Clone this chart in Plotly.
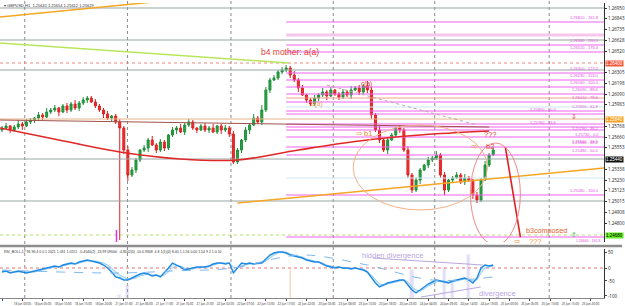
import plotly.graph_objects as go

# ---------------- data ----------------
closes = [
    1.2575, 1.2577, 1.2573, 1.2576, 1.2579, 1.2577, 1.2581, 1.2583, 1.2585, 1.2588,
    1.2586, 1.2591, 1.2593, 1.2595, 1.2591, 1.2597, 1.2593, 1.2599, 1.2595, 1.2600,
    1.2603, 1.2605, 1.2601, 1.2597, 1.2593, 1.2589, 1.2585, 1.2587, 1.2581, 1.2575,
    1.2553, 1.2528, 1.2533, 1.2543, 1.2553, 1.2555, 1.2563, 1.2558, 1.2553, 1.2561,
    1.2555, 1.2568, 1.2573, 1.2575, 1.2571, 1.2578, 1.2581, 1.2575, 1.2573, 1.2577,
    1.2573, 1.2575, 1.2571, 1.2577, 1.2573, 1.2575, 1.2569, 1.2541, 1.2553, 1.2563,
    1.2573, 1.2578, 1.2585, 1.2581, 1.2593, 1.2613, 1.2623, 1.2625, 1.2631, 1.2633,
    1.2635, 1.2628, 1.2623, 1.2615, 1.2608, 1.2603, 1.2599, 1.2605, 1.2608, 1.2611,
    1.2607, 1.2613, 1.2609, 1.2606, 1.2611, 1.2608, 1.2613, 1.2615, 1.2611, 1.2617,
    1.2613, 1.2588, 1.2573, 1.2563, 1.2553, 1.2563, 1.2568, 1.2575, 1.2573, 1.2553,
    1.2528, 1.2513, 1.2523, 1.2533, 1.2538, 1.2543, 1.2545, 1.2548, 1.2528, 1.2513,
    1.2523, 1.2525, 1.2528, 1.2521, 1.2525, 1.2523, 1.2508, 1.2503, 1.2523, 1.2538,
    1.2548, 1.2553]
first_open = 1.2573
# wick lengths in pips
up_wick = [2, 3, 1, 2, 4, 2, 3, 2, 1, 3,
           2, 4, 2, 3, 1, 2, 3, 2, 4, 2,
           3, 2, 2, 3, 2, 2, 3, 1, 2, 3,
           2, 4, 3, 2, 1, 3, 2, 4, 2, 3,
           2, 1, 3, 2, 4, 2, 3, 2, 1, 2,
           3, 2, 4, 1, 2, 3, 2, 3, 2, 1,
           3, 2, 4, 2, 5, 3, 2, 3, 2, 3,
           3, 2, 4, 2, 3, 1, 2, 3, 2, 4,
           2, 3, 1, 2, 3, 2, 4, 2, 3, 2,
           5, 3, 2, 4, 2, 3, 2, 1, 3, 2,
           4, 2, 3, 2, 1, 3, 2, 4, 2, 3,
           1, 2, 3, 2, 4, 2, 1, 3, 2, 4,
           2, 3]
lo_wick = [2, 1, 3, 2, 2, 4, 1, 2, 3, 2,
           3, 1, 2, 2, 4, 1, 3, 2, 2, 3,
           2, 3, 1, 2, 2, 4, 2, 3, 2, 112,
           4, 6, 2, 3, 2, 2, 4, 1, 3, 2,
           3, 2, 2, 4, 1, 3, 2, 2, 3, 1,
           2, 3, 1, 2, 4, 2, 3, 2, 2, 3,
           2, 4, 1, 2, 3, 2, 3, 1, 2, 2,
           2, 3, 2, 4, 1, 3, 2, 2, 3, 2,
           4, 1, 2, 3, 2, 2, 4, 1, 3, 2,
           3, 4, 2, 3, 2, 4, 1, 2, 3, 2,
           3, 3, 2, 4, 1, 3, 2, 2, 3, 5,
           2, 3, 1, 2, 3, 2, 4, 3, 2, 1,
           2, 1]

osc_main = [-4, -3, -5, -4, -3, -4, -5, -4, -3, -2,
            -1, 0, 1, 2, 1, 3, 4, 5, 4, 6,
            7, 8, 7, 6, 5, 3, 0, -4, -9, -10,
            -12, -12, -10, -8, -6, -5, -6, -8, -7, -9,
            -5, 0, 5, 3, 1, -2, -1, 0, 1, 1,
            1, 2, 4, 5, 5, 4, 5, -5, 0, 5,
            4, 5, 4, 5, 5, 9, 13, 15, 16, 16,
            15, 13, 12, 11, 10, 8, 7, 6, 6, 4,
            2, 1, 0, 1, 0, 0, -1, 0, -1, -2,
            -4, -10, -15, -19, -17, -15, -14, -13, -12, -12,
            -17, -22, -25, -22, -19, -16, -14, -12, -13, -14,
            -15, -13, -12, -11, -10, -12, -15, -10, 0, 3,
            2, 3]
osc_signal = [-3, -3, -4, -4, -4, -4, -4, -4, -4, -3,
              -2, -1, 0, 1, 1, 2, 3, 4, 4, 5,
              6, 7, 7, 7, 6, 5, 3, 0, -4, -7,
              -9, -11, -11, -10, -8, -7, -6, -7, -7, -8,
              -7, -4, 0, 2, 2, 0, -1, -1, 0, 1,
              1, 1, 3, 4, 5, 5, 5, 1, 0, 2,
              3, 4, 4, 4, 5, 7, 10, 13, 15, 16,
              16, 14, 13, 12, 11, 9, 8, 7, 6, 5,
              3, 2, 1, 1, 0, 0, 0, 0, -1, -1,
              -3, -7, -12, -16, -17, -16, -15, -14, -13, -12,
              -14, -19, -22, -23, -21, -18, -16, -14, -13, -13,
              -14, -14, -13, -12, -11, -11, -13, -12, -5, 0,
              1, 2]
osc_slow_idx = [0, 28, 42, 57, 68, 75, 90, 106, 121]
osc_slow = [-2, -5, -3, 0, 10, 13, 3, -12, -9]
div_bar_idx = [29, 31, 101, 109, 111, 115]
div_bar_top = [-27, -17, -2, 0, -15, 13]

# right-axis price ticks (ticks hidden behind coloured price boxes are left out)
price_ticks = [1.26950, 1.26843, 1.26735, 1.26628, 1.26520, 1.26305, 1.26198,
               1.26090, 1.25983, 1.25768, 1.25660, 1.25553, 1.25338,
               1.25230, 1.25123, 1.25015, 1.24908, 1.24800]
price_tick_text = ["%.5f" % v for v in price_ticks]
osc_ticks = [16, 0, -13, -28]
osc_tick_text = ["50", "0", "-50", "-100"]

time_ticks = list(range(0, 150, 5))
time_text = ["17 Jun 19:00", "18 Jun 00:00", "18 Jun 05:00", "18 Jun 10:00", "18 Jun 15:00",
             "18 Jun 20:00", "21 Jun 01:00", "21 Jun 06:00", "21 Jun 11:00", "21 Jun 16:00",
             "21 Jun 21:00", "22 Jun 02:00", "22 Jun 07:00", "22 Jun 12:00", "22 Jun 17:00",
             "22 Jun 22:00", "23 Jun 03:00", "23 Jun 08:00", "23 Jun 13:00", "23 Jun 18:00",
             "23 Jun 23:00", "24 Jun 04:00", "24 Jun 09:00", "24 Jun 14:00", "24 Jun 19:00",
             "25 Jun 00:00", "25 Jun 05:00", "25 Jun 10:00", "25 Jun 15:00", "25 Jun 20:00"]
day_seps = [5.6, 30.9, 56.4, 81.6, 106.6, 134.8]

fib_start = 70
fib_prices = [1.2681, 1.2658, 1.2651, 1.2630, 1.2623, 1.2616, 1.2609, 1.2601, 1.2592,
              1.2589, 1.2579, 1.2576, 1.2573, 1.2566, 1.2556, 1.2548, 1.2508, 1.2466]
fib_labels = ["1.26810 - 261.8", "1.26580 - 200.0", "1.26510 - 176.4", "1.26300 - 127.2",
              "1.26230 - 113.0", "1.26160 - 100.0", "1.26090 - 88.6", "1.26010 - 78.6",
              "1.25920 - 61.8", "1.25890 - 50.0", "1.25790 - 38.2", "1.25760 - 23.6",
              "1.25730 - 0.0", "1.25660 - 23.6", "1.25560 - 38.2", "1.25480 - 50.0",
              "1.25080 - 100.0", "1.24660 - 161.8"]
gray_levels = [1.2695, 1.2663, 1.2633, 1.2544, 1.2502]

# label placement for the fib level texts: (x in paper, vertical anchor)
fib_label_pos = {1.2589: (0.925, "bottom"), 1.2579: (0.995, "top"),
                 1.2576: (0.925, "bottom"), 1.2573: (0.995, "top"),
                 1.2566: (0.995, "top"), 1.2466: (0.998, "top")}

X_MAX = 148.3
idx = list(range(len(closes)))
opens = [first_open] + closes[:-1]
highs = [max(o, c) + w / 10000 for o, c, w in zip(opens, closes, up_wick)]
lows = [min(o, c) - w / 10000 for o, c, w in zip(opens, closes, lo_wick)]

fig = go.Figure()

def hline(price, color, width=1, dash="solid", start=-0.5):
    fig.add_trace(go.Scatter(x=[start, X_MAX], y=[price, price], mode="lines",
                             line=dict(color=color, width=width, dash=dash),
                             hoverinfo="skip", showlegend=False, xaxis="x", yaxis="y"))

def pline(xs, ys, color, width=1, dash="solid", shape="linear"):
    fig.add_trace(go.Scatter(x=xs, y=ys, mode="lines",
                             line=dict(color=color, width=width, dash=dash, shape=shape),
                             hoverinfo="skip", showlegend=False, xaxis="x", yaxis="y"))

# full-width levels
for p in gray_levels:
    hline(p, "#9aa5a5", 1.2)
hline(1.2640, "#f08a7a", 1, "dot")
hline(1.2584, "#e8b48a", 1)
hline(1.2468, "#b5e06a", 1, "dot")
# fib / zone levels starting at b4 peak
hline(1.2668, "#f7c6ec", 3, start=fib_start)
hline(1.2605, "#f4a08a", 1, start=fib_start)
hline(1.2596, "#cde8f2", 1, start=fib_start)
hline(1.2525, "#cde8f2", 1, start=fib_start)
for p in fib_prices:
    hline(p, "#f060f0", 1, start=fib_start)

# trend lines
pline([-0.5, 60], [1.2686, 1.2710], "#f5a623", 1.5)
pline([-0.5, 70.6], [1.2660, 1.2640], "#b8e65a", 1.5)
pline([58, X_MAX], [1.2500, 1.2535], "#f5a623", 1.5)
pline([-0.5, 120], [1.2583, 1.2576], "#a0524a", 1)
pline([80, 117], [1.2618, 1.2578], "#b9a9a0", 1, "dot")
pline([-0.5, 14, 29, 44, 58, 73, 88, 103, 120],
      [1.2575, 1.2563, 1.2551, 1.2544, 1.2543, 1.2553, 1.2562, 1.2568, 1.2572],
      "#e02828", 1.6, shape="spline")
pline([124, 127.7], [1.2556, 1.2466], "#e02020", 1.6)
pline([28.2, 28.2], [1.2473, 1.2455], "#e030e0", 1.5)

fig.add_trace(go.Candlestick(
    x=idx, open=opens, high=highs, low=lows, close=closes,
    increasing=dict(line=dict(color="#1f8f3a", width=1), fillcolor="#27a444"),
    decreasing=dict(line=dict(color="#e02020", width=1), fillcolor="#e83030"),
    whiskerwidth=0, showlegend=False, hoverinfo="skip", xaxis="x", yaxis="y"))

# ---------------- oscillator panel ----------------
fig.add_trace(go.Bar(x=div_bar_idx, y=[t + 30 for t in div_bar_top], base=-30,
                     marker=dict(color="rgba(180,160,230,0.35)"), width=0.8,
                     showlegend=False, hoverinfo="skip", xaxis="x2", yaxis="y2"))
fig.add_trace(go.Scatter(x=[-0.5, X_MAX], y=[0, 0], mode="lines",
                         line=dict(color="#f4a0a0", width=1.5, dash="dot"),
                         showlegend=False, hoverinfo="skip", xaxis="x2", yaxis="y2"))
fig.add_trace(go.Scatter(x=[71, 71], y=[0, -30], mode="lines",
                         line=dict(color="#f6c8a8", width=1),
                         showlegend=False, hoverinfo="skip", xaxis="x2", yaxis="y2"))
fig.add_trace(go.Scatter(x=idx, y=osc_signal, mode="lines",
                         line=dict(color="#8ec9f0", width=1),
                         showlegend=False, hoverinfo="skip", xaxis="x2", yaxis="y2"))
fig.add_trace(go.Scatter(x=idx, y=osc_main, mode="lines", fill="tonexty",
                         fillcolor="rgba(170,225,235,0.45)",
                         line=dict(color="#1e88e5", width=1.4),
                         showlegend=False, hoverinfo="skip", xaxis="x2", yaxis="y2"))
fig.add_trace(go.Scatter(x=osc_slow_idx, y=osc_slow, mode="lines",
                         line=dict(color="#7fb8ee", width=1, dash="dash", shape="spline"),
                         showlegend=False, hoverinfo="skip", xaxis="x2", yaxis="y2"))
fig.add_trace(go.Scatter(x=[91.4, 118.4], y=[10, 3], mode="lines",
                         line=dict(color="#b9a8e0", width=1.2),
                         showlegend=False, hoverinfo="skip", xaxis="x2", yaxis="y2"))
fig.add_trace(go.Scatter(x=[103.2, 117.9], y=[-29, -19], mode="lines",
                         line=dict(color="#b9a8e0", width=1.2),
                         showlegend=False, hoverinfo="skip", xaxis="x2", yaxis="y2"))

shapes = []
for d in day_seps:
    shapes.append(dict(type="line", xref="x", yref="paper", x0=d, x1=d, y0=0, y1=1,
                       line=dict(color="#8a8a8a", width=1, dash="dot"), layer="below"))
# panel separator
shapes.append(dict(type="line", xref="paper", yref="paper", x0=0, x1=1.03, y0=0.1745, y1=0.1745,
                   line=dict(color="#8c8c8c", width=2.5)))
# ellipses
shapes.append(dict(type="circle", xref="x", yref="y", x0=86.5, x1=119.6, y0=1.2493, y1=1.2578,
                   line=dict(color="#f4b08a", width=1)))
shapes.append(dict(type="circle", xref="x", yref="y", x0=115.4, x1=127.7, y0=1.2458, y1=1.2560,
                   line=dict(color="#f08888", width=1)))

FS = 4.5
annotations = []
def txt(x, y, s, color, size, xref="x", yref="y", **kw):
    annotations.append(dict(x=x, y=y, xref=xref, yref=yref, text=s, showarrow=False,
                            font=dict(color=color, size=size, family="Arial"), **kw))

txt(71, 1.2651, "b4 mother: a(a)", "#e53935", 8.5)
txt(77.5, 1.2599, "b(a)", "#f0a060", 6.5)
txt(89.7, 1.2619, "c(a)", "#e53935", 6.5)
txt(90.2, 1.2570, "b1", "#e8862a", 7.5)
txt(120.3, 1.2569, "???", "#e53935", 7.5)
txt(120.3, 1.2557, "b2", "#e53935", 7.5)
txt(128.5, 1.2473, "b3composed", "#e8602c", 7.2, xanchor="left")
txt(131.5, 1.2462, "???", "#f0a040", 7.5)
txt(88.0, 1.2570, "⇨", "#f0a060", 8)
txt(116.5, 1.2557, "⇨", "#f0a060", 8)
txt(127.0, 1.2462, "⇨", "#f0a060", 8)
txt(141.0, 1.2587, "⇩", "#e02020", 7)
txt(140.8, 1.2469, "⇧", "#1a9a2a", 7)

for p, lab in zip(fib_prices, fib_labels):
    xp, ya = fib_label_pos.get(p, (0.995, "bottom"))
    txt(xp, p, lab, "#e050e0", 3.5 if p == 1.2466 else 4, xref="paper",
        xanchor="right", yanchor=ya)

# price boxes on the right axis
for p, lab, bg, fg in [(1.2640, "1.26400", "#f4583a", "white"),
                       (1.2584, "1.25840", "#f5a020", "white"),
                       (1.2544, "1.25440", "#111111", "white"),
                       (1.2468, "1.24680", "#66ee22", "black")]:
    txt(1.002, p, lab, fg, FS, xref="paper", xanchor="left", bgcolor=bg, borderpad=0)

txt(0.004, 0.995, "▾ GBPUSD,H1  1.25641 1.25654 1.25612 1.25629", "#333333", 4,
    xref="paper", yref="paper", xanchor="left", yanchor="top")
txt(0.004, 0.168, "RSI_BOLL,17 96 96 4 0 0 1 2021 1 031 1.0151  -0.4540(2) -13.99 09000  -4.8542(0) -10.0.9308  4.8 1(1)(4) 8.40 1.1.56 0.00 1.54 9 2 1.0.10",
    "#333333", 3.5, xref="paper", yref="paper", xanchor="left", yanchor="top")
txt(96.3, 12.5, "hidden divergence", "#b9a8e0", 7.5, xref="x2", yref="y2")
txt(122.0, -26, "divergence", "#b9a8e0", 7.5, xref="x2", yref="y2")

fig.update_layout(
    width=625, height=306,
    margin=dict(l=0, r=18, t=0, b=8),
    paper_bgcolor="white", plot_bgcolor="white",
    showlegend=False, bargap=0,
    shapes=shapes, annotations=annotations,
    xaxis=dict(domain=[0, 1], range=[-0.5, X_MAX], anchor="y", showticklabels=False,
               showgrid=False, zeroline=False, rangeslider=dict(visible=False), showline=False),
    yaxis=dict(domain=[0.1879, 0.9899], range=[1.2461, 1.2700], side="right",
               tickvals=price_ticks, ticktext=price_tick_text, tickfont=dict(size=FS, color="#222"),
               ticks="outside", ticklen=2, tickcolor="#333", showgrid=False, zeroline=False,
               showline=True, linecolor="#333", linewidth=1),
    xaxis2=dict(domain=[0, 1], range=[-0.5, X_MAX], anchor="y2", matches="x",
                tickvals=time_ticks, ticktext=time_text, tickangle=0,
                tickfont=dict(size=3, color="#222"), ticks="outside", ticklen=2,
                showgrid=False, zeroline=False, showline=True, linecolor="#888"),
    yaxis2=dict(domain=[0, 0.1644], range=[-30, 19], side="right",
                tickvals=osc_ticks, ticktext=osc_tick_text, tickfont=dict(size=FS, color="#222"),
                ticks="outside", ticklen=2, showgrid=False, zeroline=False,
                showline=True, linecolor="#333", linewidth=1),
)

fig.write_html("out.html")
